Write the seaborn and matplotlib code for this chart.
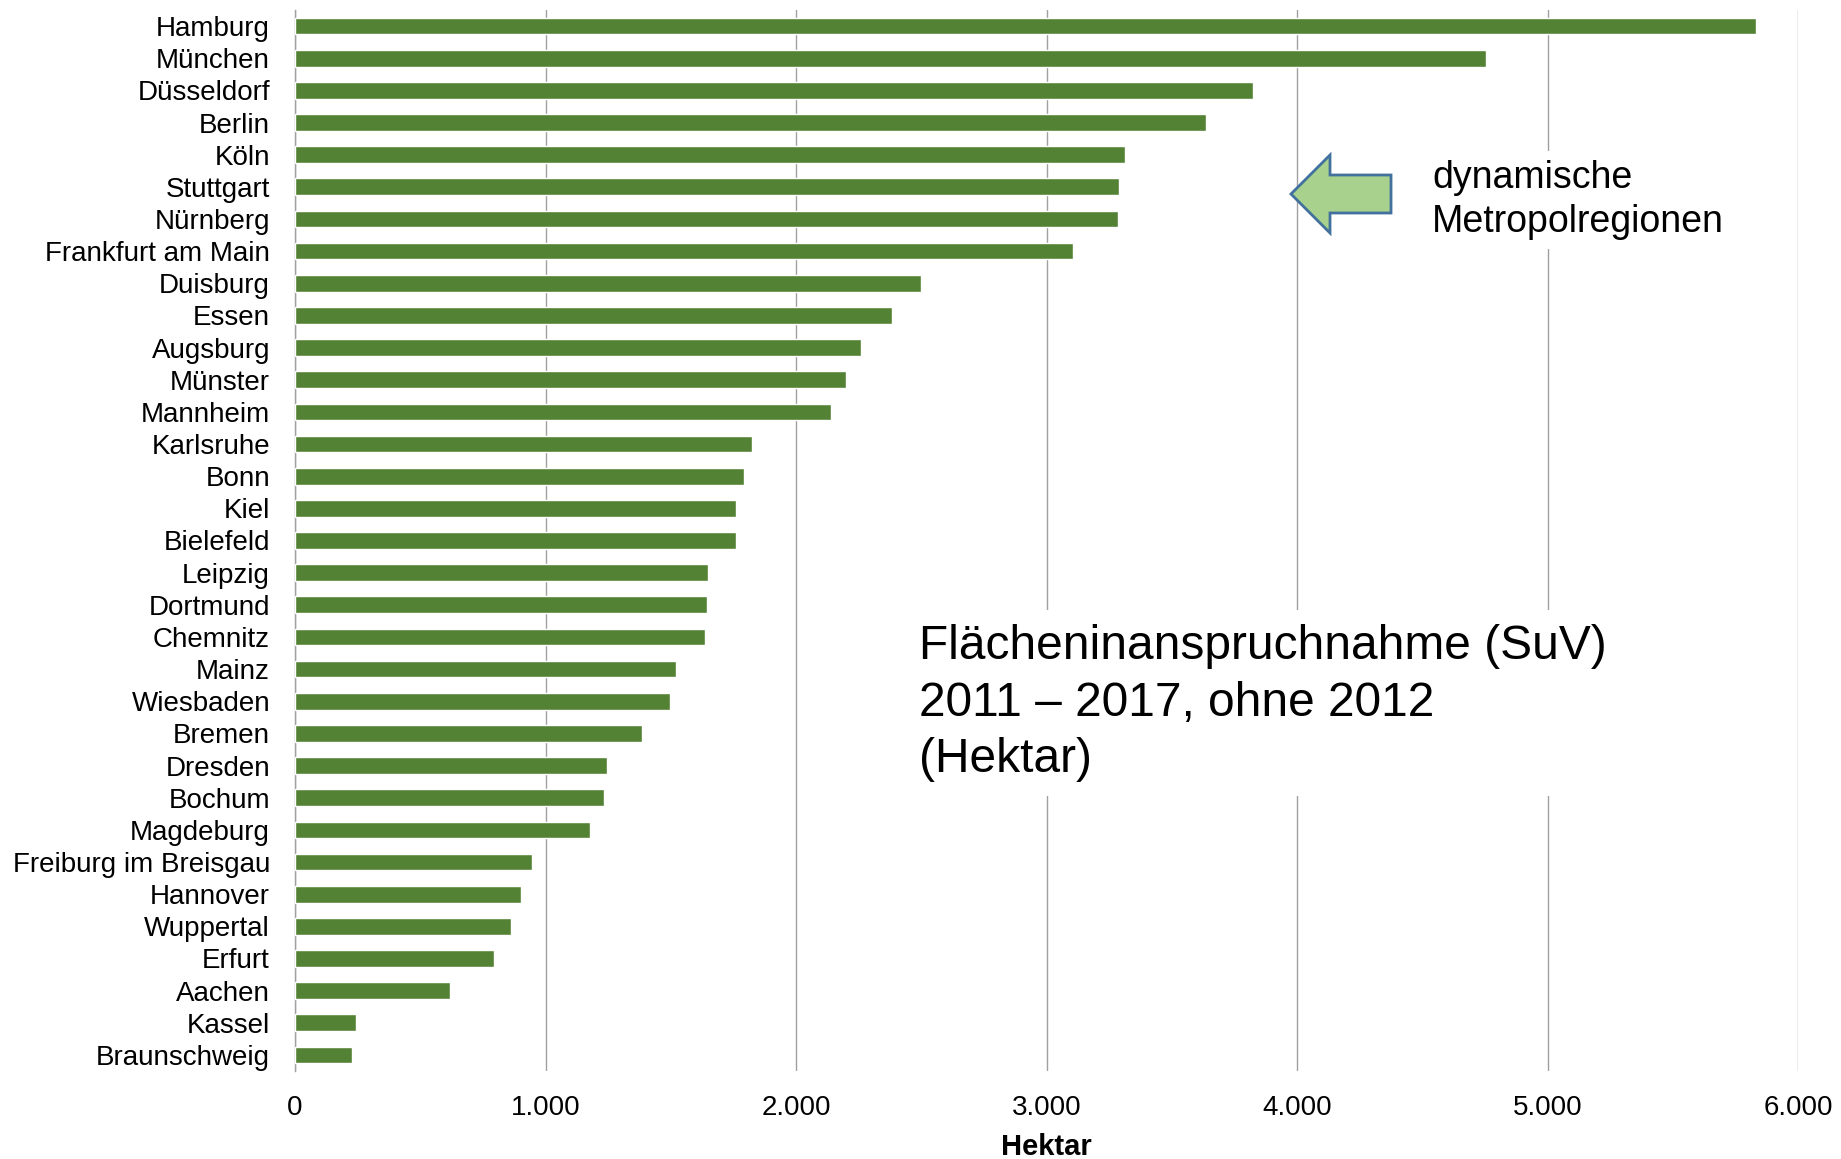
import matplotlib
matplotlib.use("Agg")
import matplotlib.pyplot as plt
import matplotlib.ticker as mticker
from matplotlib.patches import Polygon
import seaborn as sns
import pandas as pd

cities = ["Hamburg", "München", "Düsseldorf", "Berlin", "Köln", "Stuttgart", "Nürnberg",
          "Frankfurt am Main", "Duisburg", "Essen", "Augsburg", "Münster", "Mannheim",
          "Karlsruhe", "Bonn", "Kiel", "Bielefeld", "Leipzig", "Dortmund", "Chemnitz",
          "Mainz", "Wiesbaden", "Bremen", "Dresden", "Bochum", "Magdeburg",
          "Freiburg im Breisgau", "Hannover", "Wuppertal", "Erfurt", "Aachen", "Kassel",
          "Braunschweig"]
hektar = [5831, 4754, 3823, 3636, 3313, 3290, 3285, 3107, 2499, 2382, 2260, 2199, 2139,
          1825, 1792, 1759, 1759, 1647, 1643, 1638, 1521, 1497, 1385, 1245, 1235, 1177,
          947, 901, 863, 794, 619, 245, 227]
xticks = [0, 1000, 2000, 3000, 4000, 5000, 6000]

sns.set_theme(style="white")
plt.rcParams["font.family"] = ["Liberation Sans", "DejaVu Sans"]

W, H = 1841, 1159
fig = plt.figure(figsize=(W / 100, H / 100), dpi=100)
ax = fig.add_axes([295 / W, 1 - 1071 / H, (1798 - 295) / W, (1071 - 10) / H])

df = pd.DataFrame({"city": cities, "hektar": hektar})
sns.barplot(data=df, x="hektar", y="city", orient="h", color="#548235",
            saturation=1, width=0.52, ax=ax, zorder=3)

ax.set_xlim(0, 6000)
ax.set_ylim(len(cities) - 0.5, -0.5)
ax.set_xticks(xticks)
ax.xaxis.set_major_formatter(mticker.FuncFormatter(lambda v, p: f"{int(v):,}".replace(",", ".")))
ax.grid(axis="x", color="#A0A0A0", linewidth=1.0, zorder=0)
ax.set_axisbelow(True)
for s in ["top", "right", "bottom"]:
    ax.spines[s].set_visible(False)
ax.spines["left"].set_color("#A0A0A0")
ax.spines["left"].set_linewidth(1.0)
ax.tick_params(axis="y", length=0, pad=18, labelsize=20, labelcolor="black")
ax.tick_params(axis="x", length=0, pad=17, labelsize=20, labelcolor="black")
ax.set_ylabel("")
ax.set_xlabel("Hektar", fontsize=21, fontweight="bold", color="black", labelpad=9)

# Title box
fig.text(919 / W, 1 - 624 / H,
         "Flächeninanspruchnahme (SuV)\n2011 – 2017, ohne 2012\n(Hektar)",
         fontsize=34.5, color="black", ha="left", va="top", linespacing=1.33,
         bbox=dict(facecolor="white", edgecolor="none", pad=10), zorder=5)

# Annotation text
fig.text(1432 / W, 1 - 200 / H, "dynamische\nMetropolregionen",
         fontsize=27, color="black", ha="left", va="center", linespacing=1.32,
         bbox=dict(facecolor="white", edgecolor="none", pad=6), zorder=5)

# Arrow
pts = [(1291, 194), (1330, 155), (1330, 175), (1391, 175), (1391, 213),
       (1330, 213), (1330, 233)]
arrow = Polygon([(x / W, 1 - y / H) for x, y in pts], closed=True,
                facecolor="#A9D18E", edgecolor="#41719C", linewidth=2,
                transform=fig.transFigure, zorder=6)
fig.patches.append(arrow)

fig.savefig("out.png", dpi=100)
